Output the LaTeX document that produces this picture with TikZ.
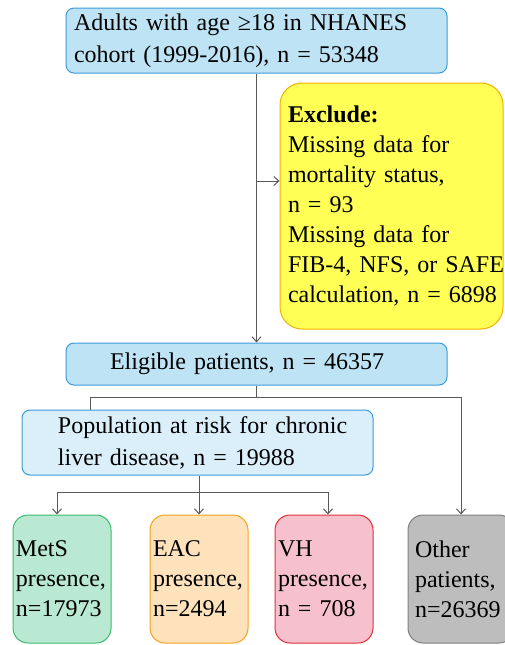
\documentclass[tikz,border=0pt]{standalone}
\usepackage{fontspec}
\setmainfont{Liberation Serif}
\usetikzlibrary{arrows.meta}
\definecolor{bluefill}{HTML}{BEE3F5}
\definecolor{bluefilllt}{HTML}{DAEFFA}
\definecolor{blueline}{HTML}{3C9BDA}
\definecolor{yelfill}{HTML}{FFFF55}
\definecolor{yelline}{HTML}{F5B000}
\definecolor{grnfill}{HTML}{B9E9D2}
\definecolor{grnline}{HTML}{3DBA6E}
\definecolor{orgfill}{HTML}{FDE2BC}
\definecolor{orgline}{HTML}{F7A21B}
\definecolor{redfill}{HTML}{F6C0CC}
\definecolor{redline}{HTML}{E0303A}
\definecolor{gryfill}{HTML}{BDBDBD}
\definecolor{gryline}{HTML}{7F7F7F}
\definecolor{conn}{HTML}{595959}
\tikzset{
  box/.style={draw, line width=1pt, rectangle, rounded corners=8pt, inner ysep=0pt,
    font=\fontsize{24}{32}\selectfont, align=left, anchor=center},
  bluebox/.style={box, fill=bluefill, draw=blueline},
  smallbox/.style={box, rounded corners=15pt, minimum height=128pt, inner xsep=3pt,
    text width=92pt, font=\fontsize{24}{30}\selectfont},
  link/.style={draw=conn, line width=1pt},
  arr/.style={link, -{Straight Barb[length=5pt,width=9pt]}}
}
\begin{document}
\begin{tikzpicture}[x=1pt,y=-1pt]
\useasboundingbox (0,0) rectangle (505,645);
\clip (0,0) rectangle (505,645);
\node[bluebox, minimum width=381pt, minimum height=65pt, text width=365pt, inner xsep=8pt]
  (top) at (256.5,40.5) {Adults with age ≥18 in NHANES\\cohort (1999-2016), n = 53348};
\node[box, fill=yelfill, draw=yelline, rounded corners=22pt, minimum width=223pt, minimum height=246pt,
  text width=207pt, inner xsep=8pt, font=\fontsize{24}{30}\selectfont]
  (excl) at (391.5,206) {\textbf{Exclude:}\\Missing data for\\mortality status,\\n = 93\\Missing data for\\\mbox{FIB-4, NFS, or SAFE}\\\mbox{calculation, n = 6898}};
\node[bluebox, minimum width=381pt, minimum height=42pt, text width=365pt, inner xsep=8pt]
  (eli) at (256.5,364) {\hspace*{36pt}Eligible patients, n = 46357};
\node[box, fill=bluefilllt, draw=blueline, minimum width=351pt, minimum height=65pt, text width=335pt, inner xsep=8pt]
  (pop) at (197.5,442.5) {\hspace*{28pt}Population at risk for chronic\\\hspace*{28pt}liver disease, n = 19988};
\node[smallbox, fill=grnfill, draw=grnline, minimum width=98pt] (mets) at (62,579) {MetS\\presence,\\n=17973};
\node[smallbox, fill=orgfill, draw=orgline, minimum width=98pt] (eac) at (199,579) {EAC\\presence,\\n=2494};
\node[smallbox, fill=redfill, draw=redline, minimum width=98pt] (vh) at (324,579) {VH\\presence,\\n = 708};
\node[smallbox, fill=gryfill, draw=gryline, minimum width=102pt, inner xsep=7pt] (other) at (461,579) {Other\\patients,\\n=26369};
% connectors
\draw[arr] (top.south) -- (eli.north);
\coordinate (j1) at (256.5,181);
\draw[arr] (j1) -- (j1 -| excl.west);
\coordinate (b1) at (256.5,397);
\coordinate (b2) at (90,397);
\draw[link] (eli.south) -- (b1);
\draw[link] (b1) -- (b2) -- (b2 |- pop.north);
\draw[arr] (b1) -| (other.north);
\coordinate (c1) at (199,492);
\draw[link] (pop.south -| c1) -- (c1);
\draw[arr] (c1) -| ([xshift=-5pt]mets.north);
\draw[arr] (c1) -- (eac.north);
\draw[arr] (c1) -| ([xshift=4pt]vh.north);
\end{tikzpicture}
\end{document}
